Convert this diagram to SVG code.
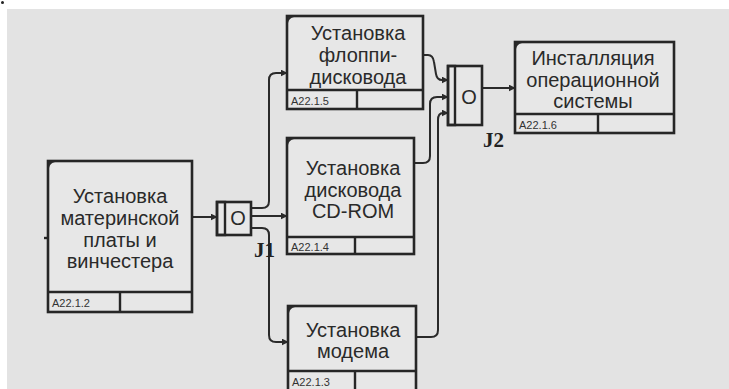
<svg xmlns="http://www.w3.org/2000/svg" width="729" height="389" viewBox="0 0 729 389">
<defs>
<style>
.box{fill:#e7e7e7;stroke:#262626;stroke-width:2.6}
.ln{fill:none;stroke:#262626;stroke-width:2.4}
.t{font-family:"Liberation Sans",Arial,sans-serif;font-size:20px;fill:#2a2a2a;text-anchor:middle}
.id{font-family:"Liberation Sans",Arial,sans-serif;font-size:11px;fill:#333}
.jl{font-family:"Liberation Serif","Times New Roman",serif;font-size:21px;font-weight:bold;fill:#222}
.c{fill:none;stroke:#2a2a2a;stroke-width:2}
.corner{fill:#2a2a2a}
</style>
<marker id="ah" viewBox="0 0 10 10" refX="9" refY="5" markerWidth="7" markerHeight="7" markerUnits="userSpaceOnUse" orient="auto">
<path d="M0,0 L10,5 L0,10 z" fill="#2a2a2a"/>
</marker>
</defs>
<rect x="0" y="0" width="729" height="389" fill="#ffffff"/>
<rect x="7" y="9" width="722" height="380" fill="#e3e3e3"/>
<circle cx="2.5" cy="2.5" r="1.5" fill="#222"/>

<g id="connectors">
<path class="c" marker-end="url(#ah)" d="M192,217 H217"/>
<path class="c" marker-end="url(#ah)" d="M251,208 H262 Q269,208 269,201 V80 Q269,73 276,73 H287"/>
<path class="c" marker-end="url(#ah)" d="M251,216 H287"/>
<path class="c" marker-end="url(#ah)" d="M251,228 H262 Q269,228 269,235 V335 Q269,342 276,342 H288"/>
<path class="c" marker-end="url(#ah)" d="M423,55 H428 Q433,55 434,62 L436,74 Q437,80 442,80 H448"/>
<path class="c" marker-end="url(#ah)" d="M414,163 H423 Q430,163 430,156 V104 Q430,97 437,97 H448"/>
<path class="c" marker-end="url(#ah)" d="M416,337 H431 Q438,337 438,330 V120 Q438,113 443,113 H448"/>
<path class="c" marker-end="url(#ah)" d="M482,88 H515"/>
<path class="ln" d="M44,238 H48" stroke-width="3"/>
</g>

<g id="A22.1.2">
<rect class="box" x="48" y="161" width="144" height="151"/>
<path class="ln" d="M48,292 H192 M120,292 V312"/>
<path class="corner" d="M49,162 h6 q-5,1 -6,6 z"/>
<text class="t" x="120" y="203">Установка</text>
<text class="t" x="120" y="225">материнской</text>
<text class="t" x="120" y="247">платы и</text>
<text class="t" x="120" y="268">винчестера</text>
<text class="id" x="52" y="307">A22.1.2</text>
</g>

<g id="J1">
<rect class="box" x="217" y="202" width="34" height="33"/>
<rect class="ln" x="217" y="202" width="8" height="33" fill="none"/>
<text class="t" x="238" y="225" font-size="19">O</text>
<text class="jl" x="254" y="257">J1</text>
</g>

<g id="A22.1.5">
<rect class="box" x="287" y="16" width="136" height="93"/>
<path class="ln" d="M287,90 H423 M357,90 V109"/>
<path class="corner" d="M288,17 h6 q-5,1 -6,6 z"/>
<text class="t" x="358" y="40">Установка</text>
<text class="t" x="358" y="62">флоппи-</text>
<text class="t" x="358" y="84">дисковода</text>
<text class="id" x="291" y="105">A22.1.5</text>
</g>

<g id="A22.1.4">
<rect class="box" x="287" y="138" width="127" height="116"/>
<path class="ln" d="M287,237 H414 M355,237 V254"/>
<path class="corner" d="M288,139 h6 q-5,1 -6,6 z"/>
<text class="t" x="353" y="175">Установка</text>
<text class="t" x="353" y="197">дисковода</text>
<text class="t" x="353" y="218">CD-ROM</text>
<text class="id" x="291" y="251">A22.1.4</text>
</g>

<g id="A22.1.3">
<rect class="box" x="288" y="306" width="128" height="90"/>
<path class="ln" d="M288,371 H416 M355,371 V396"/>
<path class="corner" d="M289,307 h6 q-5,1 -6,6 z"/>
<text class="t" x="353" y="337">Установка</text>
<text class="t" x="353" y="358">модема</text>
<text class="id" x="292" y="386">A22.1.3</text>
</g>

<g id="J2">
<rect class="box" x="448" y="66" width="34" height="59"/>
<rect class="ln" x="448" y="66" width="7" height="59" fill="none"/>
<text class="t" x="469" y="104" font-size="19">O</text>
<text class="jl" x="483" y="147">J2</text>
</g>

<g id="A22.1.6">
<rect class="box" x="515" y="42" width="159" height="91"/>
<path class="ln" d="M515,114 H674 M598,114 V133"/>
<path class="corner" d="M516,43 h6 q-5,1 -6,6 z"/>
<text class="t" x="593" y="65">Инсталляция</text>
<text class="t" x="593" y="87">операционной</text>
<text class="t" x="593" y="108">системы</text>
<text class="id" x="519" y="129">A22.1.6</text>
</g>
</svg>
